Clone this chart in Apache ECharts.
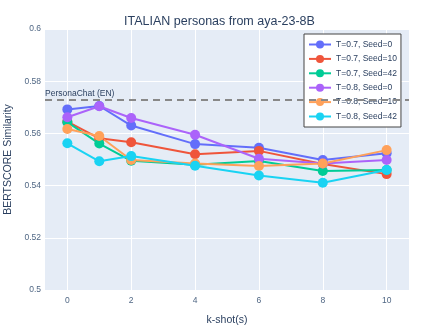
<!DOCTYPE html>
<html>
<head>
<meta charset="utf-8">
<script src="https://cdn.jsdelivr.net/npm/echarts@6/dist/echarts.min.js"></script>
<style>html,body{margin:0;padding:0;background:#fff}#app{width:439px;height:329px}</style>
</head>
<body>
<div id="app"></div>
<script>
var kShots = [0, 1, 2, 4, 6, 8, 10];
var xTicks = [0, 2, 4, 6, 8, 10];
var seriesNames = ['T=0.7, Seed=0', 'T=0.7, Seed=10', 'T=0.7, Seed=42', 'T=0.8, Seed=0', 'T=0.8, Seed=10', 'T=0.8, Seed=42'];
var t07s0 = [0.5692, 0.5705, 0.5630, 0.5559, 0.5545, 0.5498, 0.5524];
var t07s10 = [0.5645, 0.5581, 0.5566, 0.5520, 0.5533, 0.5483, 0.5444];
var t07s42 = [0.5643, 0.5561, 0.5495, 0.5480, 0.5494, 0.5456, 0.5460];
var t08s0 = [0.5662, 0.5704, 0.5659, 0.5595, 0.5503, 0.5485, 0.5498];
var t08s10 = [0.5617, 0.5590, 0.5498, 0.5485, 0.5475, 0.5485, 0.5536];
var t08s42 = [0.5562, 0.5493, 0.5513, 0.5476, 0.5439, 0.5411, 0.5460];
var baselineValue = 0.5728;
var baselineLabel = 'PersonaChat (EN)';
var colors = ['#636efa', '#EF553B', '#00cc96', '#ab63fa', '#FFA15A', '#19d3f3'];

window.onload = function() {
    var myChart = echarts.init(document.getElementById('app'));
    var all = [t07s0, t07s10, t07s42, t08s0, t08s10, t08s42];
    var font = 'Liberation Sans, Arial, sans-serif';
    var series = [];
    for (var i = 0; i < all.length; i++) {
        var pts = [];
        for (var j = 0; j < kShots.length; j++) {
            pts.push([kShots[j], all[i][j]]);
        }
        series.push({
            name: seriesNames[i],
            type: 'line',
            data: pts,
            symbol: 'circle',
            symbolSize: 10,
            lineStyle: { width: 2 },
            itemStyle: { color: colors[i] },
            z: 3
        });
    }
    // baseline, precision raised so the value is not rounded to 0.57
    series[0].markLine = {
        symbol: ['none', 'none'],
        silent: true,
        precision: 4,
        lineStyle: { type: [7, 5], color: '#888888', width: 2 },
        label: {
            position: 'insideStartTop',
            formatter: baselineLabel,
            color: '#2a3f5f',
            fontSize: 8.5,
            fontFamily: font,
            distance: [0, 2]
        },
        data: [{ yAxis: baselineValue }]
    };
    var option = {
        color: colors,
        animation: false,
        title: {
            text: 'ITALIAN personas from aya-23-8B',
            left: 'center',
            top: 10,
            textStyle: { fontSize: 12.5, fontWeight: 'normal', color: '#2a3f5f', fontFamily: font }
        },
        legend: {
            orient: 'vertical',
            left: 304,
            top: 34,
            data: seriesNames,
            backgroundColor: '#ffffff',
            borderColor: '#444444',
            borderWidth: 1,
            padding: [6, 4, 6, 4],
            itemWidth: 22,
            itemHeight: 10,
            itemGap: 5.4,
            textStyle: { fontSize: 8.5, color: '#2a3f5f', fontFamily: font }
        },
        grid: {
            left: 45,
            right: 30,
            top: 29,
            bottom: 39,
            outerBoundsMode: 'none',
            containLabel: false,
            show: true,
            backgroundColor: '#E5ECF6',
            borderWidth: 0
        },
        xAxis: {
            type: 'value',
            min: -0.7,
            max: 10.7,
            name: 'k-shot(s)',
            nameLocation: 'middle',
            nameGap: 25,
            nameTextStyle: { fontSize: 10.5, color: '#2a3f5f', fontFamily: font },
            axisLine: { show: false },
            axisTick: { show: false, customValues: xTicks },
            axisLabel: { customValues: xTicks, fontSize: 8.5, color: '#506784', fontFamily: font, margin: 6 },
            splitLine: { show: true, lineStyle: { color: '#ffffff', width: 1 } }
        },
        yAxis: {
            type: 'value',
            min: 0.5,
            max: 0.6,
            interval: 0.02,
            name: 'BERTSCORE Similarity',
            nameLocation: 'middle',
            nameGap: 29,
            nameTextStyle: { fontSize: 10.5, color: '#2a3f5f', fontFamily: font },
            axisLine: { show: false },
            axisTick: { show: false },
            axisLabel: { fontSize: 8.5, color: '#506784', fontFamily: font, margin: 4 },
            splitLine: { show: true, lineStyle: { color: '#ffffff', width: 1 } }
        },
        series: series
    };
    myChart.setOption(option);
};
</script>
</body>
</html>
